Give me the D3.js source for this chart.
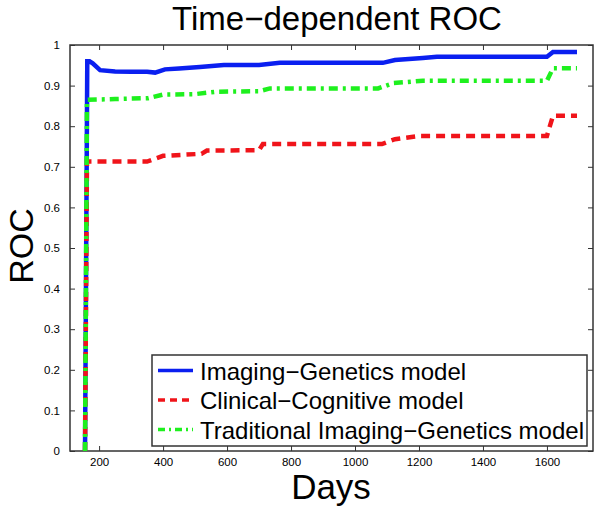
<!DOCTYPE html>
<head>
<style type="text/css">
  body { margin: 0; background: #fff; }
  text { font-family: "Liberation Sans", Arial, sans-serif; }
</style>
</head>
<script src="https://d3js.org/d3.v7.min.js"></script>
<body>
<svg width="602" height="512"></svg>
<script>
// data
var xTicks = [200, 400, 600, 800, 1000, 1200, 1400, 1600];
var yTicks = [0, 0.1, 0.2, 0.3, 0.4, 0.5, 0.6, 0.7, 0.8, 0.9, 1];

var imgGenDays = [156, 163, 170, 180, 203, 250, 300, 350, 375, 406, 450, 515, 590, 700, 765, 900, 1087, 1125, 1212, 1256, 1400, 1600, 1619, 1694];
var imgGenRoc  = [0, 0.96, 0.96, 0.955, 0.938, 0.935, 0.934, 0.934, 0.932, 0.94, 0.942, 0.946, 0.951, 0.951, 0.956, 0.956, 0.956, 0.963, 0.968, 0.971, 0.971, 0.971, 0.983, 0.983];

var clinDays = [156, 162, 250, 350, 400, 520, 537, 700, 712, 900, 1084, 1125, 1203, 1400, 1600, 1619, 1694];
var clinRoc  = [0, 0.713, 0.713, 0.713, 0.727, 0.732, 0.74, 0.741, 0.756, 0.756, 0.756, 0.768, 0.776, 0.776, 0.776, 0.826, 0.826];

var tradDays = [156, 162, 250, 353, 400, 500, 566, 700, 734, 900, 1072, 1119, 1212, 1400, 1600, 1619, 1694];
var tradRoc  = [0, 0.865, 0.867, 0.869, 0.878, 0.879, 0.885, 0.886, 0.893, 0.893, 0.893, 0.906, 0.912, 0.912, 0.912, 0.943, 0.943];

var seriesNames = ["Imaging\u2212Genetics model", "Clinical\u2212Cognitive model", "Traditional Imaging\u2212Genetics model"];

var svg = d3.select("svg"),
    margin = {top: 45, right: 9, bottom: 61, left: 70},
    width = +svg.attr("width") - margin.left - margin.right,
    height = +svg.attr("height") - margin.top - margin.bottom;

var x = d3.scaleLinear().domain([109, 1744]).range([0, width]);
var y = d3.scaleLinear().domain([0, 1]).range([height, 0]);

var g = svg.append("g").attr("transform", "translate(" + margin.left + "," + margin.top + ")");

// axes, matlab style: ticks inward on all four sides
g.append("g")
  .attr("transform", "translate(0," + height + ")")
  .call(d3.axisBottom(x).tickValues(xTicks).tickSize(-5).tickPadding(7).tickFormat(d3.format("d")))
  .call(function(a) { a.select(".domain").remove(); });
g.append("g")
  .call(d3.axisTop(x).tickValues(xTicks).tickSize(-5).tickFormat(""))
  .call(function(a) { a.select(".domain").remove(); });
g.append("g")
  .call(d3.axisLeft(y).tickValues(yTicks).tickSize(-5).tickPadding(10).tickFormat(function(d) { return d3.format("")(+d.toFixed(1)); }))
  .call(function(a) { a.select(".domain").remove(); });
g.append("g")
  .attr("transform", "translate(" + width + ",0)")
  .call(d3.axisRight(y).tickValues(yTicks).tickSize(-5).tickFormat(""))
  .call(function(a) { a.select(".domain").remove(); });

g.selectAll(".tick text").attr("font-size", 11.5).attr("fill", "#000")
  .attr("font-family", "Liberation Sans, Arial, sans-serif");
g.selectAll(".tick line").attr("stroke", "#333");

g.append("rect")
  .attr("width", width).attr("height", height)
  .attr("fill", "none").attr("stroke", "#333").attr("stroke-width", 1.5);

var line = d3.line()
  .x(function(d) { return x(d[0]); })
  .y(function(d) { return y(d[1]); });

function pairs(a, b) { return a.map(function(d, i) { return [d, b[i]]; }); }

var styles = [
  {color: "#0a1ff0", dash: null},
  {color: "#f0141a", dash: "9,6"},
  {color: "#1ef01e", dash: "9,5,3,5"}
];

var data = [pairs(imgGenDays, imgGenRoc), pairs(clinDays, clinRoc), pairs(tradDays, tradRoc)];

data.forEach(function(d, i) {
  g.append("path")
    .datum(d)
    .attr("fill", "none")
    .attr("stroke", styles[i].color)
    .attr("stroke-width", 4.5)
    .attr("stroke-dasharray", styles[i].dash)
    .attr("d", line);
});

// legend
var lg = svg.append("g").attr("transform", "translate(152,355)");
lg.append("rect")
  .attr("width", 435).attr("height", 91)
  .attr("fill", "#fff").attr("stroke", "#333").attr("stroke-width", 1.5);
seriesNames.forEach(function(name, i) {
  var yy = 15.5 + i * 29.5;
  lg.append("line")
    .attr("x1", 6).attr("x2", 41).attr("y1", yy).attr("y2", yy)
    .attr("stroke", styles[i].color).attr("stroke-width", 3.5)
    .attr("stroke-dasharray", styles[i].dash === null ? null : (i === 1 ? "7,5" : "7,4,2,4"));
  lg.append("text")
    .attr("x", 48).attr("y", yy + 9)
    .attr("font-size", 24)
    .text(name);
});

// titles
svg.append("text")
  .attr("x", 337).attr("y", 30)
  .attr("text-anchor", "middle").attr("font-size", 33)
  .text("Time\u2212dependent ROC");
svg.append("text")
  .attr("x", 331).attr("y", 499)
  .attr("text-anchor", "middle").attr("font-size", 35)
  .text("Days");
svg.append("text")
  .attr("transform", "translate(33," + 246 + ") rotate(-90)")
  .attr("text-anchor", "middle").attr("font-size", 34)
  .text("ROC");
</script>
</body>
